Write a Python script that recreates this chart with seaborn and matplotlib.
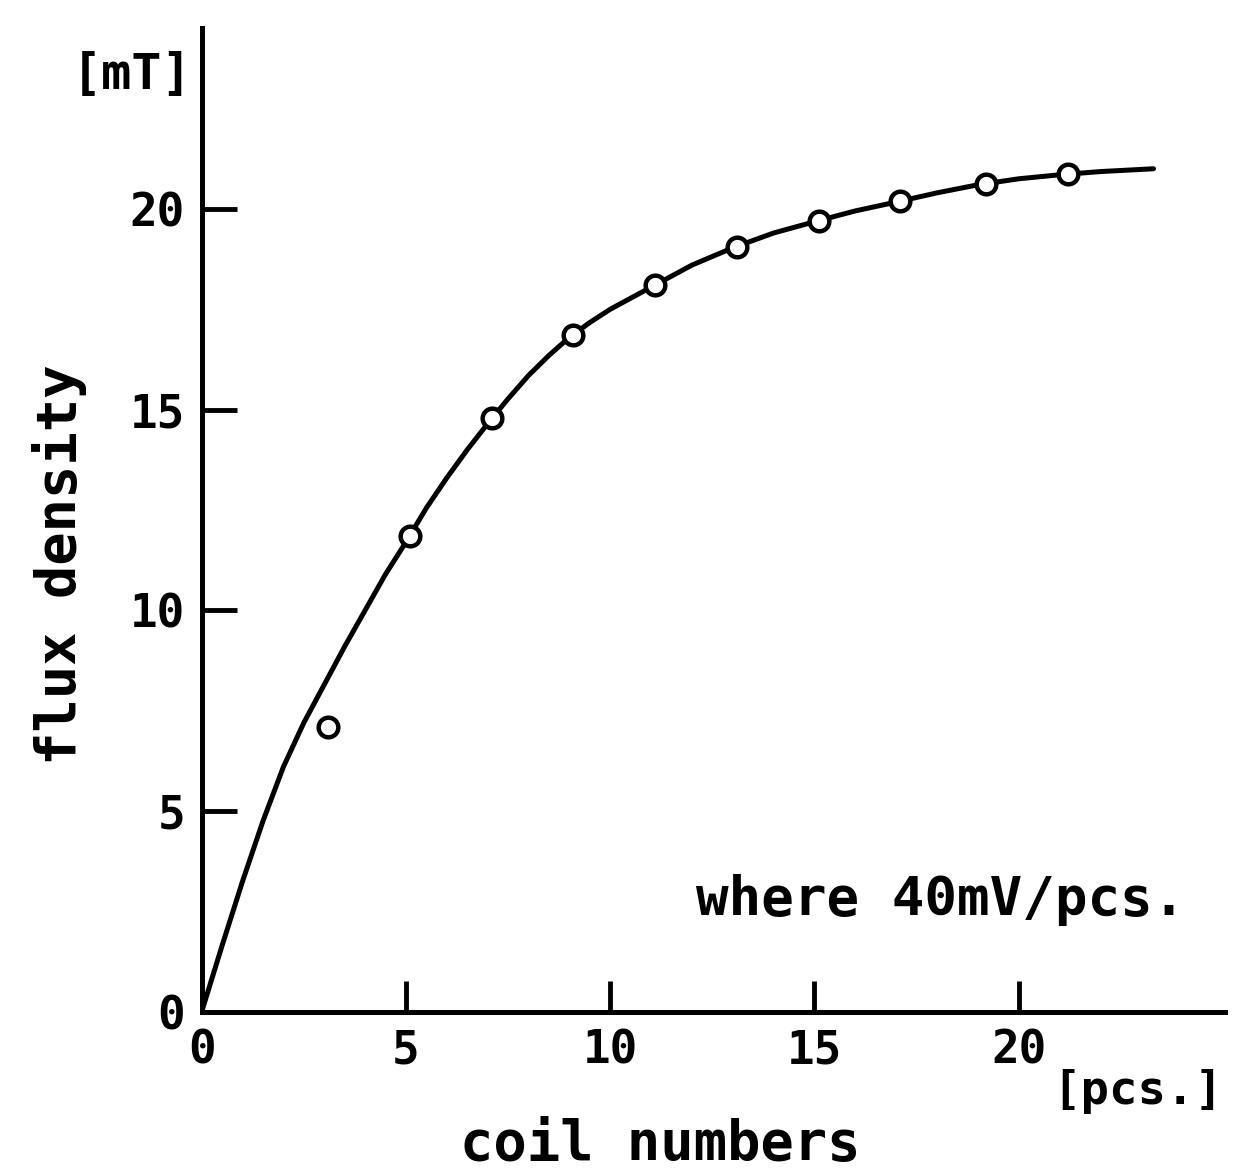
import matplotlib
matplotlib.use("Agg")
import pandas as pd
import seaborn as sns
import matplotlib.pyplot as plt

coil_curve = [0, 0.5, 1, 1.5, 2, 2.5, 3, 3.5, 4, 4.5, 5, 5.5, 6, 6.5, 7,
              7.5, 8, 8.5, 9, 9.5, 10, 11, 12, 13, 14, 15, 16, 17, 18, 19,
              20, 21, 22, 23.3]
flux_curve = [0, 1.65, 3.25, 4.75, 6.1, 7.2, 8.15, 9.1, 10.0, 10.9, 11.7,
              12.55, 13.3, 14.0, 14.65, 15.27, 15.85, 16.35, 16.8, 17.17,
              17.5, 18.05, 18.6, 19.03, 19.4, 19.68, 19.95, 20.17, 20.4,
              20.6, 20.75, 20.85, 20.93, 21.0]

# measured points (open circles)
coil_meas = [3.1, 5.1, 7.1, 9.1, 11.1, 13.1, 15.1, 17.1, 19.2, 21.2]
flux_meas = [7.1, 11.85, 14.8, 16.85, 18.1, 19.05, 19.7, 20.2, 20.62, 20.87]

x_ticks = [0, 5, 10, 15, 20]
y_ticks = [0, 5, 10, 15, 20]

sns.set_style("ticks", {"axes.edgecolor": "black", "text.color": "black",
                        "xtick.color": "black", "ytick.color": "black"})
plt.rcParams["font.family"] = ["DejaVu Sans Mono"]

curve = pd.DataFrame({"coil": coil_curve, "flux": flux_curve})
meas = pd.DataFrame({"coil": coil_meas, "flux": flux_meas})

fig = plt.figure(figsize=(12.37, 11.76), dpi=100)
ax = fig.add_axes([0.163, 0.1395, 0.827, 0.8365])

sns.lineplot(data=curve, x="coil", y="flux", color="black", lw=3.6,
             sort=False, ax=ax)
sns.scatterplot(data=meas, x="coil", y="flux", s=200, facecolor="white",
                edgecolor="black", linewidth=3.2, zorder=3, ax=ax)

ax.set_xlim(0, 25.04)
ax.set_ylim(0, 24.5)
ax.set_xticks(x_ticks)
ax.set_yticks(y_ticks)
ax.set_xlabel("")
ax.set_ylabel("")

for s in ["top", "right"]:
    ax.spines[s].set_visible(False)
for s in ["left", "bottom"]:
    ax.spines[s].set_linewidth(3.6)

ax.tick_params(axis="y", direction="in", length=25, width=3.5, pad=12,
               labelsize=33)
ax.tick_params(axis="x", direction="in", length=22, width=3.5, pad=12,
               labelsize=33)
for lab in ax.get_xticklabels() + ax.get_yticklabels():
    lab.set_fontweight("bold")

fig.text(0.107, 0.936, "[mT]", ha="center", va="center", fontsize=36,
         fontweight="bold")
fig.text(0.0485, 0.52, "flux density", rotation=90, ha="center",
         va="center", fontsize=40, fontweight="bold")
fig.text(0.5336, 0.027, "coil numbers", ha="center", va="center",
         fontsize=40, fontweight="bold")
fig.text(0.851, 0.072, "[pcs.]", ha="left", va="center", fontsize=34,
         fontweight="bold")
fig.text(0.958, 0.235, "where 40mV/pcs.", ha="right", va="center",
         fontsize=39, fontweight="bold")

plt.savefig("out.png", dpi=100)
